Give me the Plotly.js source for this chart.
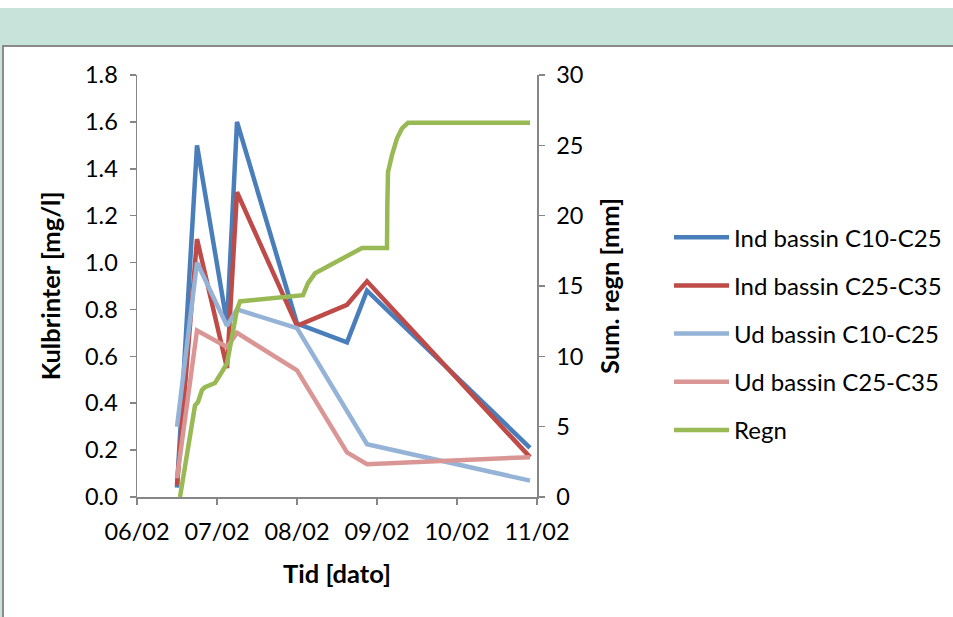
<!DOCTYPE html>
<html>
<head>
<meta charset="utf-8">
<script src="https://cdn.plot.ly/plotly-3.0.1.min.js"></script>
<style>
  html, body { margin: 0; padding: 0; background: #ffffff; width: 953px; height: 617px; overflow: hidden; }
  #band { position: absolute; left: 0; top: 8px; width: 953px; height: 37px; background: #c8e3da; }
  #edge { position: absolute; left: 0; top: 8px; width: 2px; height: 609px; background: #c8e3da; }
  #frame { position: absolute; left: 2px; top: 45px; width: 951px; height: 572px;
           border-left: 2px solid #8a8a8a; border-top: 2px solid #8a8a8a; background: #ffffff; }
  #chart { position: absolute; left: 4px; top: 47px; width: 949px; height: 570px; }
</style>
</head>
<body>
<div id="band"></div>
<div id="edge"></div>
<div id="frame"></div>
<div id="chart"></div>
<script>
// Sampling times of the hydrocarbon measurements
const concTimes = [
  '2010-02-06 12:00', '2010-02-06 18:00', '2010-02-07 03:00', '2010-02-07 06:00',
  '2010-02-08 00:00', '2010-02-08 15:00', '2010-02-08 21:00', '2010-02-10 21:54'
];
// Concentrations [mg/l]
const indC10C25 = [0.04, 1.50, 0.74, 1.60, 0.74, 0.66, 0.88, 0.21];
const indC25C35 = [0.05, 1.10, 0.55, 1.30, 0.73, 0.82, 0.92, 0.17];
const udC10C25  = [0.30, 1.00, 0.73, 0.80, 0.72, null, 0.225, 0.07];
const udC25C35  = [0.08, 0.71, 0.64, 0.70, 0.54, 0.19, 0.14, 0.17];

// Accumulated rainfall [mm]
const rainTimes = [
  '2010-02-06 12:54', '2010-02-06 14:24', '2010-02-06 15:54', '2010-02-06 17:24',
  '2010-02-06 18:18', '2010-02-06 19:30', '2010-02-06 20:24', '2010-02-06 23:24',
  '2010-02-07 01:30', '2010-02-07 03:00', '2010-02-07 04:30', '2010-02-07 06:00',
  '2010-02-07 06:54', '2010-02-08 00:54', '2010-02-08 01:48', '2010-02-08 03:18',
  '2010-02-08 05:24', '2010-02-08 19:30', '2010-02-09 03:00', '2010-02-09 03:06',
  '2010-02-09 03:18', '2010-02-09 04:30', '2010-02-09 06:00', '2010-02-09 07:30',
  '2010-02-09 09:18', '2010-02-10 21:54'
];
const rainSum = [
  0, 2.1, 4.5, 6.5, 6.75, 7.6, 7.8, 8.1, 8.9, 9.5, 11.4, 13.3, 13.9,
  14.3, 14.35, 15.2, 15.9, 17.7, 17.7, 20.7, 23.1, 24.3, 25.5, 26.2, 26.6, 26.6
];

const seriesNames = ['Ind bassin C10-C25', 'Ind bassin C25-C35', 'Ud bassin C10-C25', 'Ud bassin C25-C35', 'Regn'];
const seriesColors = ['#4a7ebb', '#be4b48', '#95b3d7', '#da9694', '#98b954'];

const FONT = 'Lato, "Noto Sans", sans-serif';
const AXIS_COLOR = '#868686';
const TITLE_SIZE = 25.5;

function lineTrace(x, y, i, yaxis) {
  return {
    type: 'scatter', mode: 'lines', x: x, y: y, name: seriesNames[i],
    yaxis: yaxis, legendgroup: 'g' + i, connectgaps: true,
    line: { color: seriesColors[i], width: 4.5 }
  };
}

const data = [
  lineTrace(concTimes, indC10C25, 0, 'y'),
  lineTrace(concTimes, indC25C35, 1, 'y'),
  lineTrace(concTimes, udC10C25, 2, 'y'),
  lineTrace(concTimes, udC25C35, 3, 'y'),
  lineTrace(rainTimes, rainSum, 4, 'y2')
];

const axisBase = {
  showline: true, linecolor: AXIS_COLOR, linewidth: 1.5,
  ticks: 'outside', ticklen: 6, tickcolor: AXIS_COLOR, tickwidth: 1.5,
  showgrid: false, zeroline: false,
  tickfont: { family: FONT, size: 23.5, color: '#000' }
};

const layout = {
  width: 949, height: 570,
  margin: { l: 133, r: 416, t: 28, b: 120, autoexpand: false },
  paper_bgcolor: '#ffffff', plot_bgcolor: '#ffffff',
  font: { family: FONT, color: '#000' },
  showlegend: true,
  xaxis: Object.assign({}, axisBase, {
    type: 'date', range: ['2010-02-06', '2010-02-11'],
    tick0: '2010-02-06', dtick: 86400000, tickformat: '%d/%m',
    ticklabelstandoff: 7,
    title: { text: '<b>Tid [dato]</b>', font: { family: FONT, size: TITLE_SIZE }, standoff: 21 }
  }),
  yaxis: Object.assign({}, axisBase, {
    range: [0, 1.8], dtick: 0.2, tickformat: '.1f',
    ticklabelstandoff: 7,
    title: { text: '<b>Kulbrinter [mg/l]</b>', font: { family: FONT, size: TITLE_SIZE }, standoff: 17 }
  }),
  yaxis2: Object.assign({}, axisBase, {
    overlaying: 'y', side: 'right', range: [0, 30], dtick: 5,
    ticklabelstandoff: 7,
    title: { text: '<b>Sum. regn [mm]</b>', font: { family: FONT, size: TITLE_SIZE }, standoff: 18 }
  }),
  legend: {
    x: 1.33, xanchor: 'left', y: 0.668, yanchor: 'top',
    font: { family: FONT, size: 24, color: '#000' },
    tracegroupgap: 14, itemwidth: 55, bgcolor: 'rgba(0,0,0,0)'
  }
};

Plotly.newPlot('chart', data, layout, { staticPlot: true, displayModeBar: false });
</script>
</body>
</html>
